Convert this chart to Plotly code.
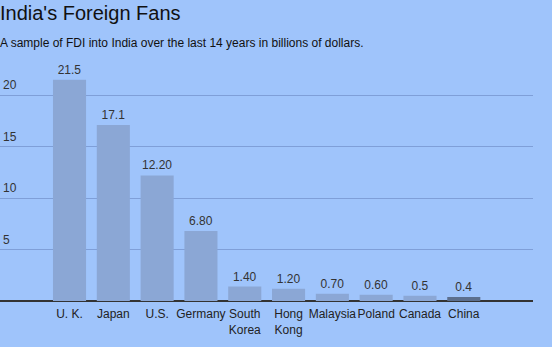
import plotly.graph_objects as go

countries = ["U. K.", "Japan", "U.S.", "Germany", "South<br>Korea", "Hong<br>Kong",
             "Malaysia", "Poland", "Canada", "China"]
fdi = [21.5, 17.1, 12.2, 6.8, 1.4, 1.2, 0.7, 0.6, 0.5, 0.4]
value_labels = ["21.5", "17.1", "12.20", "6.80", "1.40", "1.20", "0.70", "0.60", "0.5", "0.4"]
y_ticks = [5, 10, 15, 20]
y_tick_labels = ["5", "10", "15", "20"]

FONT = "Liberation Sans, Arial, sans-serif"
bar_colors = ["#8ba7d5"] * (len(countries) - 1) + ["#5c6f8e"]
bg = "#9fc4fb"

fig = go.Figure()
fig.add_trace(go.Bar(
    x=list(range(len(countries))), y=fdi,
    marker=dict(color=bar_colors, line=dict(width=0)),
    text=value_labels, textposition="outside", cliponaxis=False,
    textfont=dict(family=FONT, size=12, color="#333333"),
    width=0.755,
))

for v, lab in zip(y_ticks, y_tick_labels):
    fig.add_annotation(x=0, xref="paper", y=v, yref="y", text=lab, showarrow=False,
                       xanchor="left", yanchor="bottom", xshift=1, yshift=1,
                       font=dict(family=FONT, size=12, color="#333333"))

fig.add_annotation(x=0, xref="paper", yref="paper", y=1, yshift=47,
                   text="India's Foreign Fans", showarrow=False,
                   xanchor="left", yanchor="middle", xshift=-2,
                   font=dict(family=FONT, size=20, color="#111111"))
fig.add_annotation(x=0, xref="paper", yref="paper", y=1, yshift=17,
                   text="A sample of FDI into India over the last 14 years in billions of dollars.",
                   showarrow=False, xanchor="left", yanchor="middle", xshift=-2,
                   font=dict(family=FONT, size=12, color="#111111"))

fig.update_layout(
    width=552, height=347,
    margin=dict(l=0, r=19, t=60, b=46, autoexpand=False),
    paper_bgcolor=bg, plot_bgcolor=bg,
    showlegend=False,
    xaxis=dict(range=[-1.587, 10.58], tickmode="array", tickvals=list(range(len(countries))),
               ticktext=countries, showgrid=False, zeroline=False,
               showline=False, ticks="", tickangle=0, automargin=False,
               ticklabelstandoff=4,
               tickfont=dict(family=FONT, size=12, color="#222222"),
               fixedrange=True),
    yaxis=dict(range=[0, 23.41], tickvals=y_ticks, showticklabels=False,
               showgrid=True, gridcolor="#7f9fd8", gridwidth=1,
               zeroline=True, zerolinecolor="#333333", zerolinewidth=1.5,
               automargin=False, fixedrange=True),
)

fig.write_html("out.html")
